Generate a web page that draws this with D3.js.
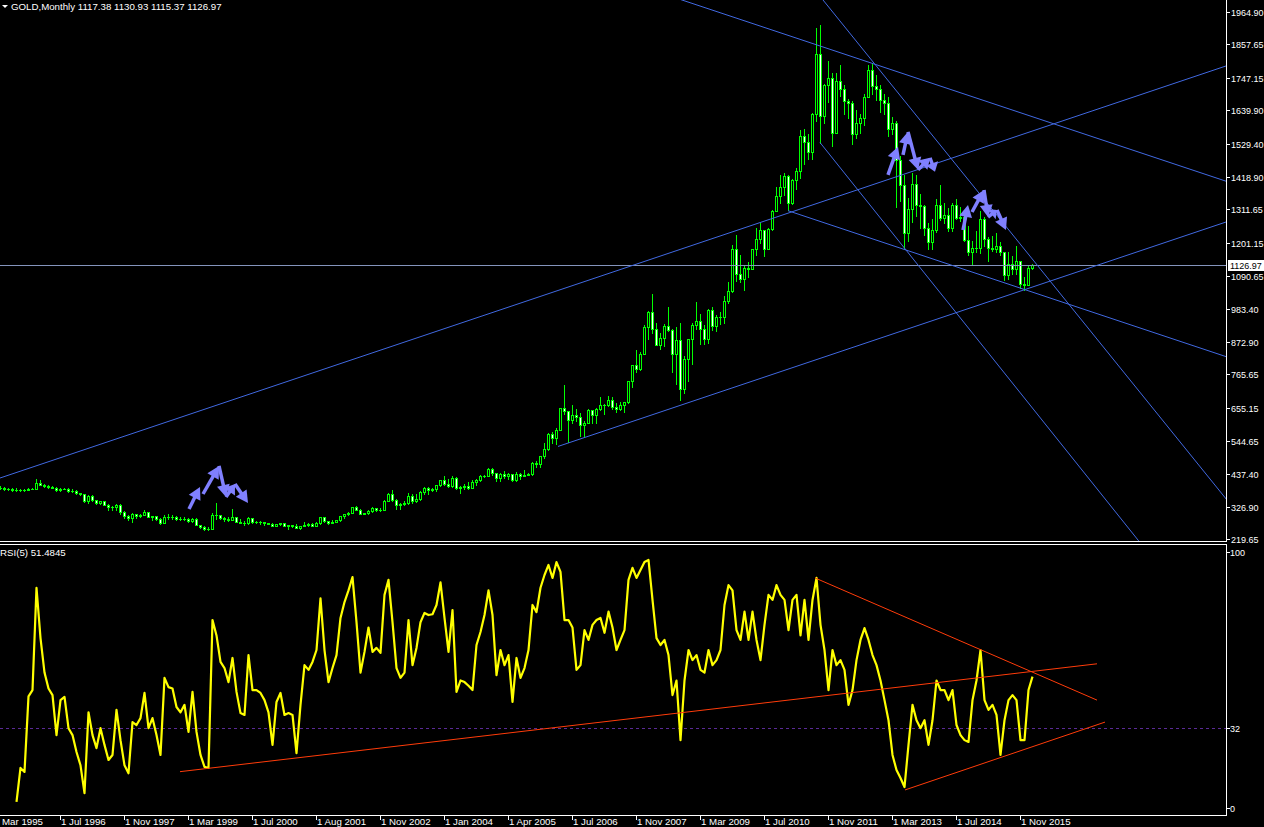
<!DOCTYPE html>
<html><head><meta charset="utf-8">
<script src="https://cdn.jsdelivr.net/npm/d3@7"></script>
<style>
html,body{margin:0;padding:0;background:#000;overflow:hidden}
svg{display:block}
text{font-family:"Liberation Sans",Arial,sans-serif;font-size:9.7px;fill:#fff}
text.ax{font-size:9px}
</style></head><body>
<svg id="c" width="1264" height="827"></svg>
<script>
// ---------------- DATA ----------------
const title = "GOLD,Monthly  1117.38 1130.93 1115.37 1126.97";
const rsiTitle = "RSI(5) 51.4845";
const opens = [
376,391,389,385,387,383,382,384,383,387,
387,405,400,396,392,391,382,386,387,379,
379,372,369,345,363,349,340,345,334,326,
325,332,311,296,290,302,297,301,309,294,
296,288,273,294,292,294,288,287,287,280,
286,268,261,255,254,299,299,291,288,283,
293,278,275,273,289,277,278,277,273,270,
264,270,274,265,267,263,258,264,267,271,
265,273,293,279,275,277,282,296,302,308,
326,318,304,306,312,323,317,318,347,368,
350,334,336,340,364,346,354,375,388,384,
386,398,416,402,396,423,388,394,395,391,
408,415,428,430,452,438,422,435,428,435,
417,435,429,433,435,473,470,495,517,569,
556,583,654,643,614,632,624,599,604,646,
632,650,665,663,680,658,650,665,673,742,
795,783,834,923,971,917,864,886,927,912,
833,880,717,815,882,928,942,917,883,979,
927,955,955,1008,1040,1182,1097,1082,1118,1115,
1180,1213,1244,1181,1248,1307,1357,1386,1421,1332,
1409,1439,1556,1536,1500,1628,1826,1620,1722,1746,
1566,1738,1710,1669,1664,1561,1598,1614,1684,1772,
1719,1711,1675,1663,1578,1596,1476,1392,1234,1312,
1395,1326,1323,1250,1202,1244,1326,1284,1292,1250,
1327,1282,1287,1210,1172,1183,1183,1279,1212,1183,
1182,1190,1172,1095,1132,1114,1142,1064,1060,1117.38];
const highs = [
396,396,393,391,390,390,387,386,389,390,
418,416,403,398,395,392,390,390,388,386,
383,374,370,365,365,351,348,346,335,329,
336,336,313,300,306,304,302,316,311,298,
298,289,301,302,299,297,293,292,291,291,
290,268,263,260,307,339,301,294,292,320,
294,288,279,293,291,280,280,278,274,274,
271,275,274,268,268,269,265,278,274,272,
278,294,293,279,282,284,298,303,310,328,
330,320,308,315,326,324,322,349,373,382,
354,341,345,373,371,369,378,392,392,390,
400,417,430,420,430,427,397,403,409,417,
420,432,432,456,457,439,440,446,438,436,
443,439,448,438,474,478,497,538,573,574,
587,654,730,645,663,650,637,610,650,649,
654,691,669,693,690,672,674,675,745,795,
845,840,930,975,1032,934,904,932,988,916,
921,934,825,884,936,1006,966,929,981,990,
961,972,1026,1071,1195,1227,1162,1129,1138,1181,
1249,1265,1244,1251,1310,1387,1424,1432,1424,1411,
1447,1575,1577,1560,1632,1913,1921,1725,1803,1764,
1764,1791,1723,1676,1669,1642,1627,1693,1790,1796,
1755,1723,1695,1684,1617,1605,1488,1424,1348,1433,
1424,1361,1326,1267,1280,1345,1392,1332,1315,1332,
1345,1321,1287,1255,1206,1240,1307,1287,1220,1224,
1232,1205,1172,1170,1157,1191,1142,1088,1128,1130.93];
const lows = [
373,386,382,383,381,379,380,380,382,385,
387,398,394,389,388,380,381,385,377,377,
370,365,343,341,347,337,338,334,318,318,
318,305,291,283,276,290,293,301,292,285,
285,271,272,288,288,283,283,283,278,278,
266,256,252,251,253,288,288,280,280,283,
276,273,266,271,274,275,270,268,269,263,
263,268,263,255,262,257,255,263,265,264,
264,271,277,271,272,276,280,290,300,307,
315,302,303,302,311,312,313,318,347,346,
320,321,334,338,341,342,349,368,370,381,
378,396,399,392,394,386,372,386,387,388,
398,412,425,429,431,414,412,424,420,414,
414,418,428,431,433,459,460,489,515,538,
535,583,635,542,605,610,560,560,603,605,
604,648,635,661,651,640,648,642,670,725,
775,781,833,884,904,862,851,860,909,774,
735,681,705,745,801,915,866,865,868,913,
908,932,936,1003,1039,1075,1072,1045,1087,1114,
1162,1200,1157,1180,1242,1306,1332,1360,1308,1328,
1380,1417,1462,1478,1480,1603,1532,1598,1667,1523,
1563,1688,1627,1614,1527,1547,1565,1591,1684,1692,
1673,1635,1626,1555,1562,1321,1338,1180,1208,1270,
1291,1251,1226,1180,1182,1238,1277,1268,1240,1240,
1280,1272,1206,1160,1131,1170,1167,1190,1142,1175,
1169,1162,1077,1080,1098,1097,1052,1046,1060,1115.37];
const closes = [
391,389,385,387,383,382,384,383,387,387,
405,400,396,392,391,382,386,387,379,379,
372,369,345,363,349,340,345,334,326,325,
332,311,296,290,302,297,301,309,294,296,
288,273,294,292,294,288,287,287,280,286,
268,261,255,254,299,299,291,288,283,293,
278,275,273,289,277,278,277,273,270,264,
270,274,265,267,263,258,264,267,271,265,
273,293,279,275,277,282,296,302,308,326,
318,304,306,312,323,317,318,347,368,350,
334,336,340,364,346,354,375,388,384,386,
398,416,402,396,423,388,394,395,391,408,
415,428,430,452,438,422,435,428,435,417,
435,429,433,435,473,470,495,517,569,556,
583,654,643,614,632,624,599,604,646,632,
650,665,663,680,658,650,665,673,742,795,
783,834,923,971,917,864,886,927,912,833,
880,717,815,882,928,942,917,883,979,927,
955,955,1008,1040,1182,1097,1082,1118,1115,1180,
1213,1244,1181,1248,1307,1357,1386,1421,1332,1409,
1439,1556,1536,1500,1628,1826,1620,1722,1746,1566,
1738,1710,1669,1664,1561,1598,1614,1684,1772,1719,
1711,1675,1663,1578,1596,1476,1392,1234,1312,1395,
1326,1323,1250,1202,1244,1326,1284,1292,1250,1327,
1282,1287,1210,1172,1183,1183,1279,1212,1183,1182,
1190,1172,1095,1132,1114,1142,1064,1060,1116,1126.97];
// RSI(5) values, first value belongs to bar index 5
const rsiStart = 5;
const rsiValues = [
4.2,17,15.5,44,46.4,85,66,53,47,44.5,
29.4,42.6,43.8,32,29.4,23,18,7.5,38,29.4,
24.5,32,25.7,20,21.9,38.9,27.5,18,15,34.3,
33.2,35.8,45.3,32,35.8,29.4,21.9,51,47.5,47,
40,38,40.8,30.6,45.7,30.6,21.9,17.4,17,72.8,
67,57,54.7,49.4,58.5,45.7,37.7,37,59.6,46.4,
46.4,45.3,42.6,38,25.7,41.9,45.3,37,37.7,37,
22.6,40.8,55.8,54,57,61.5,81,61.5,49.4,54.7,
59.6,73.6,79.6,84,89,72,53,60.8,70,60.8,
62.3,60.4,82.3,88,72,54.7,51,53,72.8,55.8,
62.3,72,75.5,74.7,75,78.5,87,73.6,60.8,76.6,
45.7,50,49.4,48,46.4,63.4,68.3,74.7,84,74.7,
52,61.5,55.8,59.6,41.9,58.5,51,54.7,61.5,78.5,
75.8,85,89.8,93.6,88.7,94.7,91,72.8,72.8,70,
54,55.8,69,65.3,71,72.8,
73.6,68,76,70,61.5,65.3,69,88,92.5,88.7,
91.7,94.7,95.5,80.4,66,63.4,65.3,59.6,44.5,50,
27.5,50,61.5,57.7,59.6,54,53,61.5,55.8,57.7,
61.5,78.5,86,84,69,65.3,76,65.3,76,65.3,
57.7,71,82.3,80.4,86,82.3,80.4,69,80.4,82.3,
67,80.4,65.3,80.4,88.7,71,61.5,46.4,61.5,55.8,
57.7,54,40.8,46.4,57.7,65.3,69.8,65.3,59.6,55.8,
50,42.6,35,21.9,16.2,13.2,9.8,25.7,40.8,35,
32,35,25.7,35,50,46.4,46.4,42.6,46.4,33.2,
29.4,27.5,26.8,42.6,50,61.5,42.6,38.9,40.8,37,
21.9,35,42.6,44.5,42.6,27.5,27.5,46.4,51.48];
const dateLabels = ["Mar 1995","1 Jul 1996","1 Nov 1997","1 Mar 1999","1 Jul 2000","1 Aug 2001","1 Nov 2002","1 Jan 2004","1 Apr 2005","1 Jul 2006","1 Nov 2007","1 Mar 2009","1 Jul 2010","1 Nov 2011","1 Mar 2013","1 Jul 2014","1 Nov 2015"];
const dateLabelStep = 16;
const priceTicks = [1964.90,1857.65,1747.15,1639.90,1529.40,1418.90,1311.65,1201.15,1090.65,983.40,872.90,765.65,655.15,544.65,437.40,326.90,219.65];
const rsiTicks = [100,32,0];
const rsiLevel = 32;
const currentPrice = 1126.97;
// trend lines in (bar index, price)
const priceLines = [
  {a:[1,422.5], b:[307.5,1786.3], ray:false},
  {a:[140.5,527], b:[307.5,1269.8], ray:true},
  {a:[171.5,2004.6], b:[307.5,1404.9], ray:false},
  {a:[198,1307.2], b:[307.5,824.3], ray:true},
  {a:[210.8,1938.3], b:[266,1033.8], ray:false},
  {a:[206,1532.9], b:[285.5,217.3], ray:true}
];
// RSI trend lines in (bar index, rsi)
const rsiLines = [
  {a:[46,15.6], b:[275.25,56.3]},
  {a:[204.75,88.7], b:[275.25,42.6]},
  {a:[227.25,8.7], b:[277.25,34.3]}
];
// zig-zag arrow annotations (bar index, price)
const arrowGroups = [
  [[48.25,320.0],[51,392.8],[51.75,369.6],[55.75,462.3],[57.5,360.0],[59.75,402.6],[63,339.8]],
  [[223,1425.9],[225.5,1518.6],[226.75,1492.1],[228,1568.2],[230.5,1442.5],[233.5,1482.2],[234.75,1435.9]],
  [[241.75,1243.3],[243,1326],[244,1302.9],[247,1375.7],[248,1286.4],[250.25,1309.6],[252.5,1243.3]]
];

// ---------------- DRAW ----------------
const plotR = 1226;
const svg = d3.select('#c');
svg.append('rect').attr('width',1264).attr('height',827).attr('fill','#000');
const x = d3.scaleLinear().domain([0,259]).range([-4,1032]);
const yP = d3.scaleLinear().domain([219.65,1964.90]).range([539.3,12]);
const yR = d3.scaleLinear().domain([0,100]).range([813,548]);
const px = v => Math.round(v)+0.5;

const defs = svg.append('defs');
defs.append('clipPath').attr('id','clipP').append('rect').attr('x',0).attr('y',0).attr('width',plotR).attr('height',541);
defs.append('clipPath').attr('id','clipR').append('rect').attr('x',0).attr('y',545).attr('width',plotR).attr('height',270);

const gP = svg.append('g').attr('clip-path','url(#clipP)');
const gR = svg.append('g').attr('clip-path','url(#clipR)');

const bars = d3.range(opens.length).map(i=>({i,o:opens[i],h:highs[i],l:lows[i],c:closes[i]}));
const green = '#00ff00';
// wicks
gP.append('g').selectAll('line').data(bars).join('line')
  .attr('x1',d=>Math.round(x(d.i))+0.5).attr('x2',d=>Math.round(x(d.i))+0.5)
  .attr('y1',d=>Math.round(yP(d.h))).attr('y2',d=>Math.round(yP(d.l))+1)
  .attr('stroke',green).attr('stroke-width',1);
// bodies
const gB = gP.append('g');
bars.forEach(d=>{
  const cx = Math.round(x(d.i));
  const top = Math.round(yP(Math.max(d.o,d.c)));
  const bot = Math.round(yP(Math.min(d.o,d.c)));
  if (bot-top >= 2) {
    gB.append('rect').attr('x',cx-0.5).attr('y',top+0.5).attr('width',2).attr('height',bot-top)
      .attr('fill', d.c>=d.o ? '#000' : '#fff').attr('stroke',green).attr('stroke-width',1);
  } else {
    gB.append('rect').attr('x',cx-1).attr('y',top).attr('width',3).attr('height',Math.max(1,bot-top+1)).attr('fill',green);
  }
});

// current price line
gP.append('line').attr('x1',0).attr('x2',plotR).attr('y1',px(yP(currentPrice))).attr('y2',px(yP(currentPrice)))
  .attr('stroke','#8494bc').attr('stroke-width',1);

// trend lines
function seg(a,b,ray,sx,sy){
  const x1=sx(a[0]), y1=sy(a[1]), x2=sx(b[0]), y2=sy(b[1]);
  const s=(y2-y1)/(x2-x1);
  const xs = ray ? x1 : -50, xe = 1400;
  return [xs, y1+s*(xs-x1), xe, y1+s*(xe-x1)];
}
priceLines.forEach(l=>{
  const [x1,y1,x2,y2] = seg(l.a,l.b,l.ray,x,yP);
  gP.append('line').attr('x1',x1).attr('y1',y1).attr('x2',x2).attr('y2',y2)
    .attr('stroke','#4169e1').attr('stroke-width',1);
});

// arrows
const arrowColor = '#8080ff';
function arrow(g,p,q){
  const x1=x(p[0]), y1=yP(p[1]), x2=x(q[0]), y2=yP(q[1]);
  const dx=x2-x1, dy=y2-y1, len=Math.hypot(dx,dy), ux=dx/len, uy=dy/len;
  const L=Math.min(12,len*0.6), w=6.5;
  const bx=x2-ux*L, by=y2-uy*L;
  g.append('line').attr('x1',x1).attr('y1',y1).attr('x2',bx+ux).attr('y2',by+uy)
    .attr('stroke',arrowColor).attr('stroke-width',3.5);
  g.append('path').attr('d',`M${x2},${y2}L${bx-uy*w},${by+ux*w}L${bx+uy*w},${by-ux*w}Z`).attr('fill',arrowColor);
}
const gA = gP.append('g');
arrowGroups.forEach(pts=>{
  arrow(gA,pts[0],pts[1]);
  arrow(gA,pts[2],pts[3]);
  arrow(gA,pts[3],pts[4]);
  arrow(gA,pts[4],pts[5]);
  arrow(gA,pts[5],pts[6]);
});

// RSI panel
gR.append('line').attr('x1',0).attr('x2',plotR).attr('y1',px(yR(rsiLevel))).attr('y2',px(yR(rsiLevel)))
  .attr('stroke','#5a2a96').attr('stroke-width',1).attr('stroke-dasharray','3,3');
const rsiData = rsiValues.map((v,k)=>({i:k+rsiStart,v}));
gR.append('path').datum(rsiData)
  .attr('d',d3.line().x(d=>x(d.i)+0.5).y(d=>yR(d.v)))
  .attr('fill','none').attr('stroke','#ffff00').attr('stroke-width',2.2).attr('stroke-linejoin','round');
rsiLines.forEach(l=>{
  gR.append('line').attr('x1',x(l.a[0])).attr('y1',yR(l.a[1])).attr('x2',x(l.b[0])).attr('y2',yR(l.b[1]))
    .attr('stroke','#ff3c0a').attr('stroke-width',1);
});

// frame lines
const fr = svg.append('g').attr('stroke','#fff').attr('stroke-width',1);
fr.append('line').attr('x1',plotR+0.5).attr('x2',plotR+0.5).attr('y1',0).attr('y2',542);
fr.append('line').attr('x1',0).attr('x2',plotR+1).attr('y1',541.5).attr('y2',541.5);
fr.append('line').attr('x1',0).attr('x2',plotR+1).attr('y1',544.5).attr('y2',544.5);
fr.append('line').attr('x1',plotR+0.5).attr('x2',plotR+0.5).attr('y1',544).attr('y2',816);
fr.append('line').attr('x1',0).attr('x2',plotR+1).attr('y1',815.5).attr('y2',815.5);

// price axis
const gY = svg.append('g');
priceTicks.forEach(v=>{
  const yy = Math.round(yP(v));
  gY.append('line').attr('x1',plotR+1).attr('x2',plotR+4).attr('y1',yy+0.5).attr('y2',yy+0.5).attr('stroke','#fff');
  gY.append('text').attr('class','ax').attr('x',1231).attr('y',yy+3.5).text(v.toFixed(2));
});
// current price box
const cy = Math.round(yP(currentPrice));
gY.append('rect').attr('x',1228).attr('y',cy-5).attr('width',36).attr('height',11).attr('fill','#fff');
gY.append('text').attr('class','ax').attr('x',1230).attr('y',cy+3.5).style('fill','#000').text(currentPrice.toFixed(2));

// RSI axis
rsiTicks.forEach(v=>{
  const yy = Math.round(yR(v));
  const ly = Math.max(552, Math.min(808, yy));
  svg.append('line').attr('x1',plotR+1).attr('x2',plotR+4).attr('y1',ly+0.5).attr('y2',ly+0.5).attr('stroke','#fff');
  svg.append('text').attr('class','ax').attr('x',1230).attr('y',ly+3.5).text(v);
});

// date axis
dateLabels.forEach((lab,k)=>{
  const xx = Math.round(x(k*dateLabelStep));
  if (xx >= 0) svg.append('line').attr('x1',xx+0.5).attr('x2',xx+0.5).attr('y1',816).attr('y2',820).attr('stroke','#fff');
  svg.append('text').attr('x',Math.max(2,xx+1)).attr('y',825).text(lab);
});

// titles
svg.append('path').attr('d','M2,5L8,5L5,8Z').attr('fill','#fff');
svg.append('text').attr('x',11).attr('y',10).text(title);
svg.append('text').attr('x',0).attr('y',556).text(rsiTitle);
</script>
</body></html>
